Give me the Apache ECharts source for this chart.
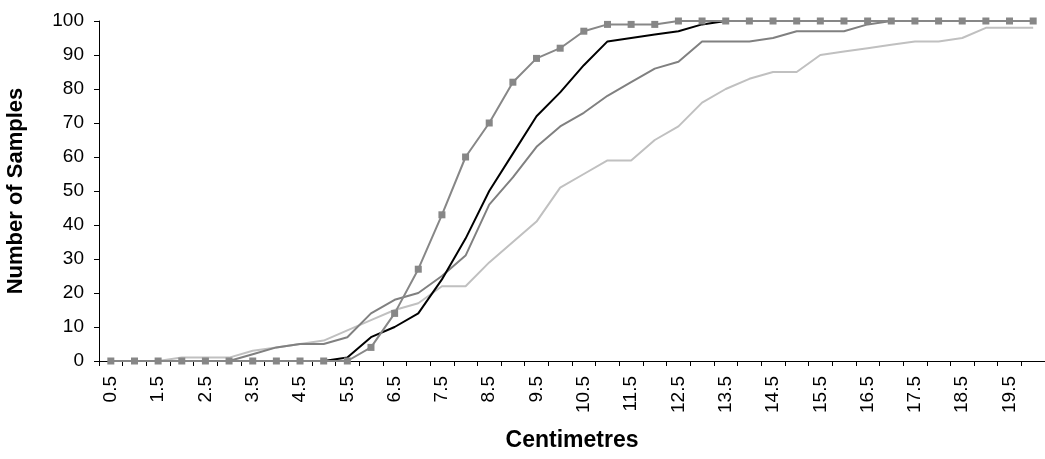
<!DOCTYPE html>
<html>
<head>
<meta charset="utf-8">
<script src="https://cdn.jsdelivr.net/npm/echarts@6/dist/echarts.min.js"></script>
<style>
html,body{margin:0;padding:0;background:#fff;}
#chart{width:1045px;height:459px;}
</style>
</head>
<body>
<div id="chart"></div>
<script>
var categories = ['0.5','1','1.5','2','2.5','3','3.5','4','4.5','5','5.5','6','6.5','7','7.5','8','8.5','9','9.5','10','10.5','11','11.5','12','12.5','13','13.5','14','14.5','15','15.5','16','16.5','17','17.5','18','18.5','19','19.5','20'];
var seriesMarked = [0,0,0,0,0,0,0,0,0,0,0,4,14,27,43,60,70,82,89,92,97,99,99,99,100,100,100,100,100,100,100,100,100,100,100,100,100,100,100,100];
var seriesBlack  = [0,0,0,0,0,0,0,0,0,0,1,7,10,14,24,36,50,61,72,79,87,94,95,96,97,99,100,100,100,100,100,100,100,100,100,100,100,100,100,100];
var seriesMid    = [0,0,0,0,0,0,2,4,5,5,7,14,18,20,25,31,46,54,63,69,73,78,82,86,88,94,94,94,95,97,97,97,99,100,100,100,100,100,100,100];
var seriesLight  = [0,0,0,1,1,1,3,4,5,6,9,12,15,17,22,22,29,35,41,51,55,59,59,65,69,76,80,83,85,85,90,91,92,93,94,94,95,98,98,98];
var yTicks = {min:0, max:100, interval:10};

var chart = echarts.init(document.getElementById('chart'), null, {renderer:'canvas'});
var font = 'Liberation Sans, Arial, sans-serif';
function line(name, data, color, z, marker) {
  return {
    name: name, type: 'line', data: data, z: z,
    symbol: marker ? 'rect' : 'none', symbolSize: 7, showSymbol: !!marker,
    itemStyle: {color: color},
    lineStyle: {color: color, width: 2},
    animation: false
  };
}
chart.setOption({
  animation: false,
  grid: {left: 99, right: 0, top: 21, bottom: 98, containLabel: false, outerBoundsMode: 'none'},
  xAxis: {
    type: 'category', data: categories, boundaryGap: true,
    name: 'Centimetres', nameLocation: 'middle', nameGap: 68,
    nameTextStyle: {fontFamily: font, fontSize: 23, fontWeight: 'bold', color: '#000'},
    axisLine: {lineStyle: {color: '#000', width: 1}},
    axisTick: {show: true, interval: 0, inside: false, length: 5, lineStyle: {color: '#000'}},
    axisLabel: {interval: 1, rotate: 90, fontFamily: font, fontSize: 19, color: '#000', margin: 15},
    splitLine: {show: false}
  },
  yAxis: {
    type: 'value', min: yTicks.min, max: yTicks.max, interval: yTicks.interval,
    name: 'Number of Samples', nameLocation: 'middle', nameGap: 72, nameRotate: 90,
    nameTextStyle: {fontFamily: font, fontSize: 22, fontWeight: 'bold', color: '#000'},
    axisLine: {show: true, lineStyle: {color: '#000', width: 1}},
    axisTick: {show: true, length: 5, lineStyle: {color: '#000'}},
    axisLabel: {fontFamily: font, fontSize: 19, color: '#000', margin: 15},
    splitLine: {show: false}
  },
  series: [
    line('Light', seriesLight, '#c0c0c0', 1, false),
    line('Mid', seriesMid, '#808080', 2, false),
    line('Black', seriesBlack, '#000000', 3, false),
    line('Marked', seriesMarked, '#878787', 4, true)
  ]
});
</script>
</body>
</html>
